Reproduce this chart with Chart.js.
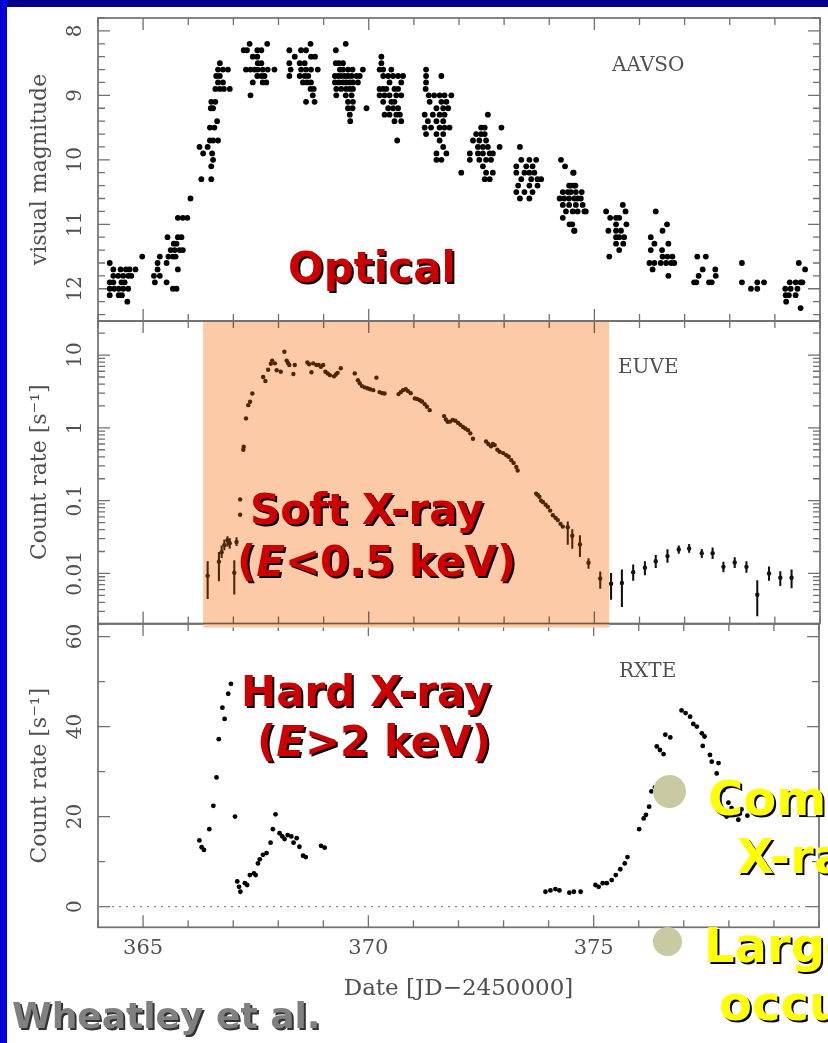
<!DOCTYPE html>
<html lang="en">
<head>
<meta charset="UTF-8">
<title>Outburst light curves: optical, soft and hard X-ray</title>
<script src="https://cdn.jsdelivr.net/npm/chart.js@4"></script>
<style>
  html, body { margin: 0; padding: 0; }
  body { width: 828px; height: 1043px; overflow: hidden; position: relative; background: #fff;
         font-family: "DejaVu Sans", sans-serif; }
  .edge-top { position: absolute; left: 0; top: 0; width: 828px; height: 7px; background: #00008c; z-index: 9; }
  .edge-left { position: absolute; left: 0; top: 0; width: 7px; height: 1043px; z-index: 9;
               background: linear-gradient(to right, #0000a8, #0000ff 55%, #0008d8); }
  .panel { position: absolute; left: 0; width: 828px; }
  .panel canvas { display: block; }
  .tag { position: absolute; white-space: nowrap; line-height: 1; z-index: 6; }
  .src { font-family: "DejaVu Serif", serif; font-size: 20px; color: #505050; }
  .band { font-weight: bold; font-size: 42px; color: #cc0000; text-shadow: 2px 2px 0 #000; }
  .note { font-weight: bold; font-size: 48px; color: #ffff00; text-shadow: 2px 2px 0 #000; }
  .cite { font-weight: bold; font-size: 36px; color: #808080; text-shadow: 2px 2px 0 #333; }
  .dot { position: absolute; border-radius: 50%; background: #c9c9a2; z-index: 6; }
</style>
</head>
<body>
  <div class="edge-top"></div>
  <div class="edge-left"></div>

  <div class="panel" style="top:0;height:330px;z-index:1"><canvas id="aavsoChart" width="828" height="330"></canvas></div>
  <div class="panel" style="top:300px;height:340px;z-index:3"><canvas id="euveChart" width="828" height="340"></canvas></div>
  <div class="panel" style="top:600px;height:443px;z-index:2"><canvas id="rxteChart" width="828" height="443"></canvas></div>

  <!-- instrument names inside each panel -->
  <div class="tag src" style="left:612px;top:54px">AAVSO</div>
  <div class="tag src" style="left:618px;top:356px">EUVE</div>
  <div class="tag src" style="left:619px;top:660px">RXTE</div>

  <!-- band captions -->
  <div class="tag band" style="left:288px;top:247px">Optical</div>
  <div class="tag band" style="left:250px;top:489px">Soft X-ray</div>
  <div class="tag band" style="left:237px;top:541px">(<i>E</i>&lt;0.5 keV)</div>
  <div class="tag band" style="left:241px;top:671px">Hard X-ray</div>
  <div class="tag band" style="left:257px;top:721px">(<i>E</i>&gt;2 keV)</div>

  <div class="dot" style="left:653px;top:775px;width:33px;height:33px"></div>
  <div class="tag note" style="left:708px;top:774px">Com</div>
  <div class="tag note" style="left:737px;top:832px">X-ra</div>
  <div class="dot" style="left:653px;top:927px;width:29px;height:29px"></div>
  <div class="tag note" style="left:704px;top:921px">Large</div>
  <div class="tag note" style="left:719px;top:979px">occu</div>

  <div class="tag cite" style="left:12px;top:998px">Wheatley et al.</div>

<script>
// ---- axis ticks ----
const dayTicks = [364, 365, 366, 367, 368, 369, 370, 371, 372, 373, 374, 375, 376, 377, 378, 379, 380];
const dayLabeled = [365, 370, 375];

const magMajor = [8, 9, 10, 11, 12];
const magLabels = ['8', '9', '10', '11', '12'];
const magMinor = [7.8, 8.2, 8.4, 8.6, 8.8, 9.2, 9.4, 9.6, 9.8, 10.2, 10.4, 10.6, 10.8,
                  11.2, 11.4, 11.6, 11.8, 12.2, 12.4];

const rateMajor = [0.01, 0.1, 1, 10];
const rateLabels = ['0.01', '0.1', '1', '10'];
const rateMinor = [];
[0.001, 0.01, 0.1, 1, 10].forEach(dec => {
  [2, 3, 4, 5, 6, 7, 8, 9].forEach(m => { if (dec * m < 29) rateMinor.push(dec * m); });
});

const rxteMajor = [0, 20, 40, 60];
const rxteLabels = ['0', '20', '40', '60'];
const rxteMinor = [10, 30, 50];

// days covered by the shaded soft X-ray window
const softBand = [366.33, 375.33];

// ---- AAVSO visual estimates [day, magnitude] ----
const aavso = [
  [364.26,11.6],[364.34,11.7],[364.50,11.7],[364.62,11.7],[364.70,11.7],[364.83,11.7],
  [364.34,11.8],[364.45,11.8],[364.56,11.8],[364.67,11.8],[364.74,11.8],
  [364.26,11.9],[364.34,11.9],[364.52,11.9],[364.59,11.9],
  [364.26,12.0],[364.36,12.0],[364.46,12.0],[364.56,12.0],[364.67,12.0],
  [364.26,12.1],[364.46,12.1],[364.53,12.1],[364.65,12.2],[364.98,11.5],
  [365.54,11.2],[365.77,11.2],[365.85,11.2],[365.68,11.3],[365.74,11.3],
  [365.61,11.4],[365.70,11.4],[365.81,11.4],[365.88,11.4],
  [365.37,11.5],[365.56,11.5],[365.66,11.5],[365.72,11.5],
  [365.32,11.6],[365.52,11.6],[365.32,11.7],[365.77,11.7],
  [365.24,11.8],[365.37,11.8],[365.26,11.9],[365.52,11.9],[365.66,12.0],[365.74,12.0],
  [365.77,10.9],[365.88,10.9],[365.98,10.9],[366.05,10.6],
  [366.29,10.3],[366.51,10.3],[366.51,10.1],[366.55,10.0],[366.33,9.9],[366.53,9.9],
  [366.25,9.8],[366.43,9.8],[366.48,9.7],[366.55,9.7],[366.66,9.7],
  [366.48,9.5],[366.58,9.5],[366.64,9.4],[366.50,9.2],[366.55,9.2],[366.51,9.1],[366.60,9.1],
  [366.60,8.9],[366.70,8.9],[366.79,8.9],[366.92,8.9],[366.66,8.8],[366.77,8.8],
  [366.62,8.7],[366.70,8.7],[366.66,8.6],[366.77,8.6],[366.88,8.6],[366.70,8.5],
  [367.36,8.2],[367.75,8.2],[367.23,8.3],[367.30,8.3],[367.53,8.3],[367.62,8.3],
  [367.43,8.4],[367.53,8.4],[367.54,8.5],[367.62,8.5],
  [367.28,8.6],[367.38,8.6],[367.47,8.6],[367.54,8.6],[367.65,8.6],[367.76,8.6],[367.91,8.6],
  [367.53,8.7],[367.62,8.7],[367.69,8.7],[367.43,8.8],[367.65,8.8],[367.73,8.8],[367.38,9.0],
  [368.71,8.2],[368.24,8.3],[368.50,8.3],[368.61,8.3],[368.36,8.4],[368.72,8.4],[368.81,8.4],
  [368.24,8.5],[368.47,8.5],[368.58,8.5],
  [368.27,8.6],[368.50,8.6],[368.61,8.6],[368.72,8.6],[368.87,8.6],
  [368.24,8.7],[368.47,8.7],[368.58,8.7],[368.66,8.7],[368.54,8.8],[368.63,8.8],[368.72,8.8],
  [368.71,8.9],[368.78,8.9],[368.76,9.0],[368.61,9.1],[368.80,9.1],
  [369.49,8.2],[369.27,8.3],[369.27,8.5],[369.34,8.5],[369.43,8.5],
  [369.36,8.6],[369.43,8.6],[369.54,8.6],[369.64,8.6],[369.87,8.6],
  [369.25,8.7],[369.32,8.7],[369.39,8.7],[369.47,8.7],[369.54,8.7],[369.62,8.7],[369.73,8.7],[369.80,8.7],
  [369.25,8.8],[369.34,8.8],[369.43,8.8],[369.50,8.8],[369.58,8.8],[369.65,8.8],[369.76,8.8],
  [369.28,8.9],[369.39,8.9],[369.50,8.9],[369.58,8.9],[369.65,8.9],
  [369.28,9.0],[369.49,9.0],[369.62,9.0],[369.54,9.1],[369.65,9.1],
  [369.54,9.2],[369.64,9.2],[369.95,9.2],[369.58,9.3],[369.59,9.4],
  [370.28,8.4],[370.28,8.5],[370.24,8.6],[370.32,8.6],[370.50,8.6],
  [370.32,8.7],[370.43,8.7],[370.54,8.7],[370.65,8.7],[370.76,8.7],[370.46,8.8],[370.72,8.8],
  [370.24,8.9],[370.32,8.9],[370.39,8.9],[370.57,8.9],[370.65,8.9],
  [370.24,9.0],[370.35,9.0],[370.46,9.0],[370.61,9.0],[370.72,9.0],
  [370.32,9.1],[370.50,9.1],[370.57,9.1],[370.43,9.2],[370.54,9.2],[370.65,9.2],
  [370.35,9.3],[370.46,9.3],[370.61,9.3],[370.69,9.3],[370.57,9.4],[370.72,9.4],[370.63,9.7],
  [371.27,8.6],[371.27,8.7],[371.61,8.7],[371.27,8.8],[371.26,8.9],
  [371.33,9.0],[371.45,9.0],[371.57,9.0],[371.68,9.0],[371.83,9.0],
  [371.35,9.1],[371.61,9.1],[371.72,9.1],[371.50,9.2],[371.65,9.2],[371.76,9.2],
  [371.24,9.3],[371.42,9.3],[371.57,9.3],[371.68,9.3],[371.31,9.4],[371.50,9.4],[371.65,9.4],
  [371.24,9.5],[371.38,9.5],[371.57,9.5],[371.68,9.5],[371.79,9.5],
  [371.27,9.6],[371.50,9.6],[371.65,9.6],[371.57,9.7],[371.65,9.8],
  [371.50,9.9],[371.72,9.9],[371.50,10.0],[371.61,10.0],
  [372.64,9.3],[372.49,9.5],[372.57,9.5],[372.94,9.5],[372.38,9.6],[372.49,9.6],[372.57,9.6],
  [372.31,9.7],[372.45,9.7],[372.60,9.7],[372.42,9.8],[372.53,9.8],[372.64,9.8],[372.90,9.8],
  [372.24,9.9],[372.42,9.9],[372.53,9.9],[372.68,9.9],[372.75,9.9],
  [372.24,10.0],[372.45,10.0],[372.60,10.0],[372.71,10.0],[372.53,10.1],
  [372.05,10.2],[372.60,10.2],[372.75,10.2],[372.57,10.3],[372.68,10.3],
  [373.35,9.8],[373.38,10.0],[373.56,10.0],[373.71,10.0],[373.27,10.1],[373.49,10.1],[373.63,10.1],
  [373.27,10.2],[373.45,10.2],[373.56,10.2],[373.67,10.2],
  [373.38,10.3],[373.60,10.3],[373.74,10.3],[373.82,10.3],[373.31,10.4],[373.56,10.4],[373.74,10.4],
  [373.27,10.5],[373.45,10.5],[373.63,10.5],[373.35,10.6],[373.56,10.6],
  [374.26,10.0],[374.35,10.1],[374.53,10.2],[374.54,10.2],
  [374.44,10.4],[374.55,10.4],[374.48,10.4],[374.58,10.4],
  [374.30,10.5],[374.41,10.5],[374.59,10.5],[374.48,10.5],[374.72,10.5],
  [374.23,10.6],[374.33,10.6],[374.44,10.6],[374.56,10.6],[374.63,10.6],[374.70,10.6],
  [374.30,10.7],[374.44,10.7],[374.59,10.7],[374.74,10.7],
  [374.37,10.8],[374.52,10.8],[374.63,10.8],[374.78,10.8],[374.81,10.8],
  [374.30,10.9],[374.45,11.0],[374.51,11.0],[374.55,11.1],[374.56,11.1],
  [375.63,10.7],[375.26,10.8],[375.69,10.8],[375.35,10.9],[375.48,10.9],[375.55,10.9],
  [375.48,11.0],[375.71,11.0],[375.31,11.1],[375.48,11.1],[375.59,11.1],
  [375.48,11.2],[375.55,11.2],[375.66,11.2],[375.48,11.3],[375.64,11.3],[375.55,11.4],[375.33,11.5],
  [376.36,10.8],[376.61,11.0],[376.51,11.1],[376.25,11.2],[376.33,11.3],[376.64,11.3],
  [376.25,11.4],[376.50,11.4],[376.51,11.5],[376.62,11.5],[376.73,11.5],
  [376.22,11.6],[376.33,11.6],[376.47,11.6],[376.59,11.6],[376.70,11.6],[376.77,11.6],
  [376.29,11.7],[376.64,11.8],
  [377.28,11.5],[377.47,11.5],[377.40,11.7],[377.68,11.7],[377.31,11.8],[377.69,11.8],
  [377.21,11.9],[377.26,11.9],[377.54,11.9],[377.60,11.9],
  [378.27,11.6],[378.27,11.9],[378.61,11.9],[378.76,11.9],[378.47,12.0],[378.61,12.0],
  [379.53,11.6],[379.67,11.7],[379.33,11.9],[379.46,11.9],[379.57,11.9],[379.61,11.9],
  [379.23,12.0],[379.35,12.0],[379.50,12.0],[379.24,12.1],[379.31,12.1],[379.46,12.1],
  [379.25,12.2],[379.57,12.3]
];

// ---- EUVE count rate [day, counts/s] ----
const euve = [
  [366.43,0.0093],[366.68,0.0145],[366.74,0.0195],[366.80,0.0245],[366.87,0.0285],[366.92,0.026],
  [367.02,0.0102],[367.07,0.027],[367.15,0.064],[367.15,0.104],[367.22,0.50],[367.23,0.55],
  [367.28,1.35],[367.33,2.05],[367.37,2.28],[367.42,2.97],
  [367.66,5.0],[367.71,4.4],[367.77,6.3],[367.83,7.6],[367.86,8.4],[367.92,7.7],[367.96,6.2],
  [368.05,5.9],[368.13,11.1],[368.18,8.4],[368.21,7.8],[368.24,7.3],[368.33,5.5],[368.36,7.3],
  [368.64,7.9],[368.68,7.5],[368.73,5.8],[368.77,7.7],[368.84,7.3],[368.89,7.3],[368.94,6.9],
  [368.99,7.3],[369.04,5.9],[369.09,5.6],[369.14,5.3],[369.23,5.1],[369.27,5.4],[369.31,5.7],[369.38,6.6],
  [369.69,5.6],[369.76,4.5],[369.80,4.1],[369.85,3.75],[369.91,3.6],[369.97,3.5],[370.03,3.4],
  [370.10,3.3],[370.17,4.9],[370.24,3.1],[370.30,3.0],[370.35,2.97],
  [370.66,2.91],[370.71,3.1],[370.76,3.3],[370.82,3.4],[370.87,3.2],[370.93,3.0],[371.02,2.54],
  [371.07,2.5],[371.13,2.4],[371.18,2.3],[371.24,2.12],[371.29,1.95],[371.35,1.75],
  [371.67,1.45],[371.71,1.3],[371.75,1.21],[371.80,1.22],[371.86,1.28],[371.92,1.25],[371.98,1.17],
  [372.03,1.1],[372.09,1.03],[372.14,0.98],[372.20,0.93],[372.25,0.84],[372.31,0.71],
  [372.60,0.65],[372.65,0.6],[372.71,0.56],[372.75,0.6],[372.79,0.58],[372.85,0.5],[372.90,0.47],
  [372.98,0.45],[373.05,0.42],[373.10,0.4],[373.16,0.36],[373.21,0.33],[373.27,0.29],[373.30,0.26],
  [373.71,0.125],[373.74,0.12],[373.78,0.113],[373.82,0.10],[373.86,0.096],[373.92,0.088],
  [373.97,0.082],[374.02,0.073],[374.08,0.063],[374.14,0.058],[374.19,0.054],[374.25,0.048],[374.30,0.044],
  [374.41,0.043],[374.51,0.033],[374.68,0.025],[374.87,0.014],[375.13,0.0085],[375.37,0.0072],
  [375.61,0.0074],[375.86,0.0104],[376.12,0.0120],[376.36,0.0147],[376.62,0.0173],[376.87,0.0213],
  [377.10,0.022],[377.38,0.019],[377.62,0.019],[377.86,0.0123],[378.11,0.0141],[378.37,0.0123],
  [378.61,0.0051],[378.87,0.0100],[379.12,0.0087],[379.37,0.0087]
];

// EUVE 1-sigma ranges [day, low, high]
const euveErr = [
  [366.43,0.0045,0.0145],[366.68,0.0079,0.0195],[366.74,0.0165,0.024],[366.80,0.021,0.029],
  [366.87,0.0235,0.032],[366.92,0.022,0.030],[367.02,0.0052,0.015],[367.07,0.024,0.031],
  [374.41,0.025,0.051],[374.51,0.022,0.040],[374.68,0.017,0.033],[374.87,0.0117,0.016],
  [375.13,0.0062,0.0105],[375.37,0.0044,0.010],[375.61,0.0035,0.0112],[375.86,0.0080,0.0131],
  [376.12,0.0095,0.0145],[376.36,0.0120,0.0177],[376.62,0.0142,0.0212],[376.87,0.0188,0.024],
  [377.10,0.0195,0.025],[377.38,0.0165,0.0215],[377.62,0.0160,0.0225],[377.86,0.0105,0.0143],
  [378.11,0.0120,0.0165],[378.37,0.0103,0.0145],[378.61,0.0026,0.0080],[378.87,0.0080,0.0123],
  [379.12,0.0068,0.0106],[379.37,0.0063,0.0112]
];

// ---- RXTE count rate [day, counts/s] ----
const rxte = [
  [366.25,14.7],[366.30,13.2],[366.35,12.6],[366.47,17.2],[366.56,22.4],[366.63,28.7],
  [366.68,37.2],[366.76,44.2],[366.81,41.7],[366.89,47.3],[366.95,49.5],[367.04,20.0],
  [367.09,5.6],[367.13,4.4],[367.16,3.3],[367.26,5.2],[367.31,4.8],[367.37,7.0],[367.46,7.4],
  [367.50,7.0],[367.55,9.6],[367.59,10.5],[367.66,11.5],[367.74,11.9],[367.83,14.2],[367.88,17.2],
  [367.94,20.5],[368.03,16.3],[368.09,15.6],[368.14,15.0],[368.21,15.9],[368.29,15.6],[368.34,14.2],
  [368.41,15.2],[368.47,13.3],[368.55,11.3],[368.61,11.0],[368.95,13.5],[369.03,13.1],
  [373.93,3.3],[374.04,3.6],[374.15,3.9],[374.24,3.6],[374.46,3.1],[374.56,3.3],[374.71,3.3],
  [375.04,4.8],[375.11,4.4],[375.20,5.2],[375.29,5.2],[375.40,5.9],[375.49,7.0],[375.59,8.3],
  [375.69,9.6],[375.75,11.0],[376.01,17.2],[376.11,19.6],[376.16,20.4],[376.23,22.2],[376.28,25.6],
  [376.36,26.5],[376.40,35.6],[376.47,34.8],[376.55,33.9],[376.59,38.2],[376.70,37.6],
  [376.95,43.6],[377.04,43.0],[377.14,42.2],[377.21,40.6],[377.29,40.0],[377.40,38.5],[377.46,37.8],
  [377.42,35.7],[377.58,33.7],[377.62,32.2],[377.77,31.9],[377.73,29.6],[377.88,25.9],[377.99,23.1],
  [377.95,20.0],[378.06,21.9],[378.21,19.3],[378.28,21.6],[378.41,20.2]
];

const serif = '"DejaVu Serif", serif';
const ink = '#505050';
const frameGray = '#707070';
const inBand = d => d >= softBand[0] && d <= softBand[1];
const pts = arr => arr.map(([x, y]) => ({ x, y }));

// frame round the plot, inward ticks on all four sides, rotated y labels
const frameTicks = {
  id: 'frameTicks',
  beforeDatasetsDraw(chart, args, opts) {
    const { ctx, chartArea: a, scales: { x, y } } = chart;
    ctx.save();
    ctx.strokeStyle = frameGray;
    ctx.lineWidth = 1.7;
    ctx.strokeRect(a.left, a.top, a.right - a.left, a.bottom - a.top);

    ctx.lineWidth = 1.3;
    ctx.beginPath();
    dayTicks.forEach(d => {
      const px = x.getPixelForValue(d);
      const len = dayLabeled.includes(d) ? 12 : 7;
      ctx.moveTo(px, a.top); ctx.lineTo(px, a.top + len);
      ctx.moveTo(px, a.bottom); ctx.lineTo(px, a.bottom - len);
    });
    const yTick = (v, len) => {
      const py = y.getPixelForValue(v);
      ctx.moveTo(a.left, py); ctx.lineTo(a.left + len, py);
      ctx.moveTo(a.right, py); ctx.lineTo(a.right - len, py);
    };
    opts.major.forEach(v => yTick(v, 12));
    opts.minor.forEach(v => yTick(v, 7));
    ctx.stroke();

    if (opts.zeroLine) {
      const py = y.getPixelForValue(0);
      ctx.setLineDash([2, 5]);
      ctx.strokeStyle = '#8a8a8a';
      ctx.lineWidth = 1.4;
      ctx.beginPath();
      ctx.moveTo(a.left, py); ctx.lineTo(a.right, py);
      ctx.stroke();
      ctx.setLineDash([]);
    }

    ctx.fillStyle = ink;
    ctx.font = '20px ' + serif;
    ctx.textAlign = 'center';
    ctx.textBaseline = 'middle';
    opts.major.forEach((v, i) => {
      ctx.save();
      ctx.translate(76, y.getPixelForValue(v));
      ctx.rotate(-Math.PI / 2);
      ctx.fillText(opts.labels[i], 0, 0);
      ctx.restore();
    });
    ctx.restore();
  }
};

// peach window marking the soft X-ray coverage
const softWindow = {
  id: 'softWindow',
  beforeDatasetsDraw(chart) {
    const { ctx, chartArea: a, scales: { x } } = chart;
    const x0 = x.getPixelForValue(softBand[0]);
    const x1 = x.getPixelForValue(softBand[1]);
    ctx.save();
    ctx.globalCompositeOperation = 'multiply';
    ctx.fillStyle = '#fccaa6';
    ctx.fillRect(x0, a.top + 1, x1 - x0, a.bottom - a.top + 3);
    ctx.restore();
  }
};

function yAxis(extra, title) {
  return Object.assign({
    grid: { display: false },
    border: { display: false },
    ticks: { display: false },
    title: { display: true, text: title, color: ink, font: { family: serif, size: 22 },
             padding: { top: 19, bottom: 0 } },
    afterFit: s => { s.width = 90; }
  }, extra);
}

const hiddenX = { type: 'linear', min: 364, max: 380, display: false };

const base = {
  responsive: false,
  animation: false,
  devicePixelRatio: 1,
  plugins: { legend: { display: false }, tooltip: { enabled: false } }
};

new Chart(document.getElementById('aavsoChart'), {
  type: 'scatter',
  data: { datasets: [{ data: pts(aavso), pointRadius: 2.9, pointBackgroundColor: '#000', pointBorderWidth: 0 }] },
  options: {
    ...base,
    layout: { padding: { left: 8, right: 8, top: 18, bottom: 9 } },
    scales: {
      x: hiddenX,
      y: yAxis({ min: 7.8, max: 12.5, reverse: true }, 'visual magnitude')
    },
    plugins: { ...base.plugins, frameTicks: { major: magMajor, minor: magMinor, labels: magLabels } }
  },
  plugins: [frameTicks]
});

const euveColor = c => (c.raw && inBand(c.raw.x)) ? '#4d2608' : '#111';

new Chart(document.getElementById('euveChart'), {
  type: 'scatter',
  data: {
    datasets: [
      { data: pts(euve), pointRadius: 2.2, pointBorderWidth: 0, pointBackgroundColor: euveColor },
      { type: 'bar', data: euveErr.map(([x, lo, hi]) => ({ x, y: [lo, hi] })),
        barThickness: 1.4, backgroundColor: euveColor, borderWidth: 0 }
    ]
  },
  options: {
    ...base,
    layout: { padding: { left: 8, right: 8, top: 21, bottom: 16.5 } },
    scales: {
      x: { ...hiddenX, offset: false },
      y: yAxis({ type: 'logarithmic', min: 0.00205, max: 29.4 }, 'Count rate [s\u207B\u00B9]')
    },
    plugins: { ...base.plugins, frameTicks: { major: rateMajor, minor: rateMinor, labels: rateLabels } }
  },
  plugins: [frameTicks, softWindow]
});

new Chart(document.getElementById('rxteChart'), {
  type: 'scatter',
  data: { datasets: [{ data: pts(rxte), pointRadius: 2.4, pointBackgroundColor: '#000', pointBorderWidth: 0 }] },
  options: {
    ...base,
    layout: { padding: { left: 8, right: 8, top: 24, bottom: 0 } },
    scales: {
      x: {
        type: 'linear', min: 364, max: 380,
        grid: { display: false, drawTicks: false },
        border: { display: false },
        afterBuildTicks: s => { s.ticks = dayTicks.map(v => ({ value: v })); },
        ticks: {
          autoSkip: false, maxRotation: 0, padding: 9, color: ink,
          font: { family: serif, size: 21 },
          callback: v => dayLabeled.includes(v) ? String(v) : ''
        },
        title: { display: true, text: 'Date [JD\u22122450000]', color: ink,
                 font: { family: serif, size: 23 }, padding: { top: 0, bottom: 40 } },
        afterFit: s => { s.height = 115.7; }
      },
      y: yAxis({ min: -4.6, max: 62.8 }, 'Count rate [s\u207B\u00B9]')
    },
    plugins: { ...base.plugins, frameTicks: { major: rxteMajor, minor: rxteMinor, labels: rxteLabels, zeroLine: true } }
  },
  plugins: [frameTicks]
});
</script>
</body>
</html>
